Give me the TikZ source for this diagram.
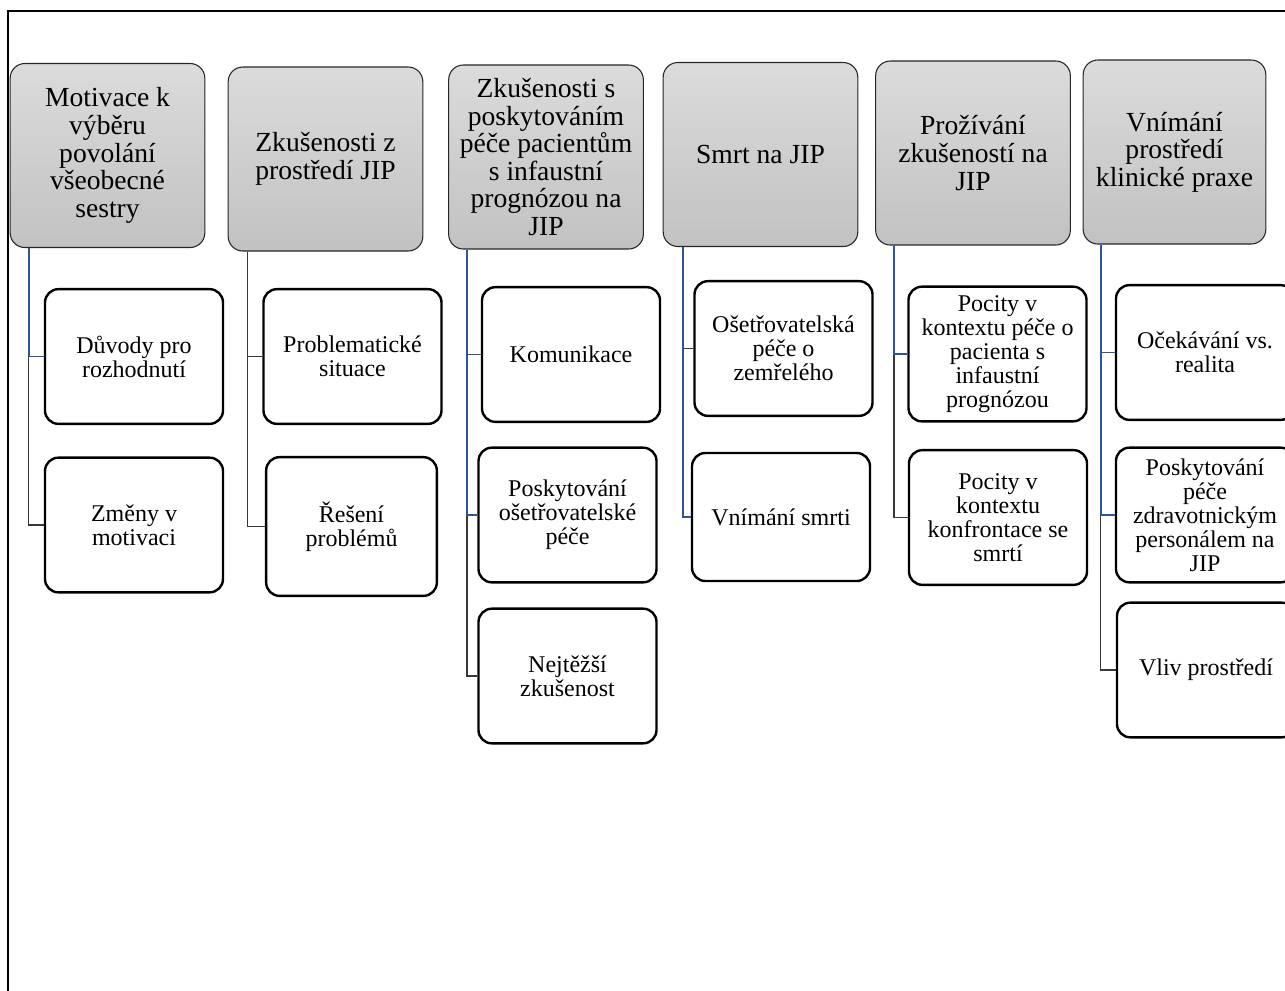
\documentclass[tikz,border=0pt]{standalone}
\usepackage{fontspec}
\setmainfont{Liberation Serif}
\definecolor{linkblue}{RGB}{47,85,151}
\definecolor{linkgray}{RGB}{55,55,55}

\tikzset{every picture/.style={line width=0.75pt}}
\tikzset{
  headbox/.style={draw=black!85, line width=0.8pt, rounded corners=11pt,
    top color=black!14, bottom color=black!24,
    minimum width=146pt, minimum height=138pt, inner sep=2pt, align=center,
    font=\fontsize{20.7}{20.7}\selectfont},
  subbox/.style={draw=black, line width=1.8pt, rounded corners=10pt, fill=white,
    minimum width=133.5pt, minimum height=101pt, inner sep=2pt, align=center,
    font=\fontsize{18}{18}\selectfont},
  linkb/.style={draw=linkblue, line width=1.4pt},
  linkg/.style={draw=linkgray, line width=1.1pt},
}

\begin{document}
\begin{tikzpicture}[x=0.75pt,y=0.75pt,yscale=-1,xscale=1]
        \clip (0,0) rectangle (1285,990);
        %Shape: Rectangle [frame]
        \draw [line width=1.5pt] (8,11) rectangle (1300,1000);

        % Header nodes
        \node [headbox] (h1) at (107.5,155.5) {Motivace k\\výběru\\povolání\\všeobecné\\sestry};
        \node [headbox] (h2) at (325.5,159) {Zkušenosti z\\prostředí JIP};
        \node [headbox] (h3) at (546,157) {Zkušenosti s\\poskytováním\\péče pacientům\\s infaustní\\prognózou na\\JIP};
        \node [headbox] (h4) at (760.5,154.5) {Smrt na JIP};
        \node [headbox] (h5) at (973,153) {Prožívání\\zkušeností na\\JIP};
        \node [headbox, minimum width=137pt] (h6) at (1174.5,152) {Vnímání\\prostředí\\klinické praxe};

        % Sub nodes
        \node [subbox] (c11) at (134,356.5) {Důvody pro\\rozhodnutí};
        \node [subbox] (c12) at (134,525) {Změny v\\motivaci};
        \node [subbox] (c21) at (352.5,356.5) {Problematické\\situace};
        \node [subbox, minimum width=128pt, minimum height=104pt] (c22) at (351.5,526.5) {Řešení\\problémů};
        \node [subbox] (c31) at (571,354.5) {Komunikace};
        \node [subbox] (c32) at (567.5,515) {Poskytování\\ošetřovatelské\\péče};
        \node [subbox] (c33) at (567.5,676) {Nejtěžší\\zkušenost};
        \node [subbox] (c41) at (783.5,348.5) {Ošetřovatelská\\péče o\\zemřelého};
        \node [subbox, minimum height=96pt] (c42) at (781,517) {Vnímání smrti};
        \node [subbox] (c51) at (997.5,354) {Pocity v\\kontextu péče o\\pacienta s\\infaustní\\prognózou};
        \node [subbox] (c52) at (998,517.5) {Pocity v\\kontextu\\konfrontace se\\smrtí};
        \node [subbox] (c61) at (1205,352.5) {Očekávání vs.\\realita};
        \node [subbox] (c62) at (1205,515) {Poskytování\\péče\\zdravotnickým\\personálem na\\JIP};
        \node [subbox] (c63) at (1206,670) {Vliv prostředí};

        % Links
        \draw [linkg] ([xshift=14.25pt]h1.south west) |- (c12.west);
        \draw [linkb] ([xshift=14.25pt]h1.south west) |- (c11.west);
        \draw [linkg] ([xshift=15pt]h2.south west) |- (c22.west);
        \draw [linkg] ([xshift=15pt]h2.south west) |- (c21.west);
        \draw [linkg] ([xshift=14.25pt]h3.south west) |- (c33.west);
        \draw [linkb] ([xshift=14.25pt]h3.south west) |- (c32.west);
        \draw [linkb] ([xshift=14.25pt]h3.south west) |- (c31.west);
        \draw [linkg] ([xshift=15pt]h4.south west) |- (c41.west);
        \draw [linkb] ([xshift=15pt]h4.south west) |- (c42.west);
        \draw [linkg] ([xshift=14.25pt]h5.south west) |- (c52.west);
        \draw [linkb] ([xshift=14.25pt]h5.south west) |- (c51.west);
        \draw [linkg] ([xshift=13.5pt]h6.south west) |- (c63.west);
        \draw [linkb] ([xshift=13.5pt]h6.south west) |- (c62.west);
        \draw [linkb] ([xshift=13.5pt]h6.south west) |- (c61.west);

    \end{tikzpicture}
\end{document}
